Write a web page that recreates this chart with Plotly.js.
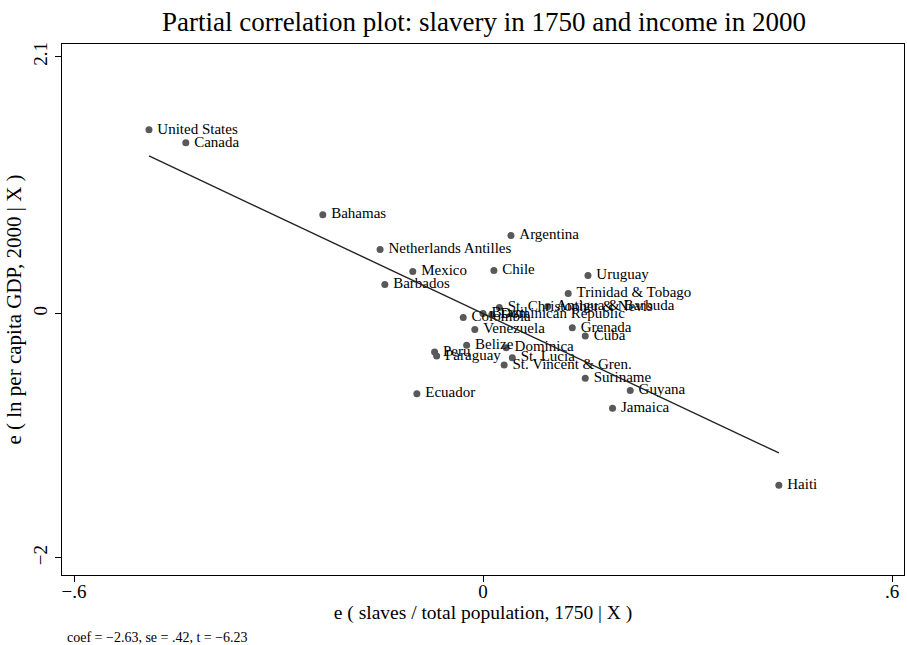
<!DOCTYPE html>
<html>
<head>
<meta charset="utf-8">
<script src="https://cdn.plot.ly/plotly-3.0.1.min.js"></script>
<style>html,body{margin:0;padding:0;background:#fff;}#chart{width:907px;height:645px;}</style>
</head>
<body>
<div id="chart"></div>
<script>
const countries = ["United States","Canada","Bahamas","Netherlands Antilles","Mexico","Barbados","Argentina","Chile","Uruguay","Trinidad & Tobago","Antigua & Barbuda","St. Christopher & Nevis","Brazil","Dominican Republic","Colombia","Venezuela","Grenada","Cuba","Belize","Dominica","Peru","Paraguay","St. Lucia","St. Vincent & Gren.","Suriname","Guyana","Jamaica","Ecuador","Haiti"];
const xSlaves = [-0.490,-0.436,-0.235,-0.151,-0.103,-0.144,0.041,0.016,0.154,0.125,0.095,0.024,0.000,0.013,-0.029,-0.012,0.131,0.150,-0.024,0.034,-0.071,-0.068,0.043,0.031,0.150,0.216,0.190,-0.097,0.434];
const yIncome = [1.503,1.396,0.808,0.523,0.343,0.237,0.637,0.351,0.310,0.163,0.057,0.049,0.000,-0.008,-0.033,-0.131,-0.117,-0.185,-0.261,-0.280,-0.316,-0.349,-0.362,-0.422,-0.531,-0.631,-0.776,-0.656,-1.405];
const coef = -2.63;
const xTicks = [-0.6, 0, 0.6];
const xTickLabels = ["\u2212.6", "0", ".6"];
const yTicks = [2.1, 0, -2];
const yTickLabels = ["2.1", "0", "\u22122"];

const xmin = Math.min(...xSlaves), xmax = Math.max(...xSlaves);
const fitX = [xmin, xmax];
const fitY = fitX.map(v => coef * v);

const serif = "Liberation Serif, Times New Roman, serif";

const traces = [
  {
    x: xSlaves, y: yIncome, text: countries.map(c => "\u2009" + c),
    type: "scatter", mode: "markers+text", textposition: "middle right",
    marker: {color: "#595959", size: 7},
    textfont: {family: serif, size: 15, color: "#000"},
    cliponaxis: false, hoverinfo: "skip", showlegend: false
  },
  {
    x: fitX, y: fitY, type: "scatter", mode: "lines",
    line: {color: "#222", width: 1.4}, hoverinfo: "skip", showlegend: false
  }
];

const layout = {
  width: 907, height: 645,
  margin: {l: 62, r: 3, t: 44, b: 70},
  paper_bgcolor: "#fff", plot_bgcolor: "#fff",
  font: {family: serif, color: "#000"},
  title: {text: "Partial correlation plot: slavery in 1750 and income in 2000",
          font: {family: serif, size: 27, color: "#000"},
          x: 484/907, xanchor: "center", y: 1 - 22/645, yanchor: "middle"},
  xaxis: {
    range: [-0.6176, 0.6176], showgrid: false, zeroline: false,
    showline: true, linecolor: "#000", linewidth: 1.2, mirror: true,
    ticks: "outside", ticklen: 6, tickcolor: "#000", ticklabelstandoff: -7,
    tickvals: xTicks, ticktext: xTickLabels,
    tickfont: {family: serif, size: 19},
    title: {text: "e ( slaves / total population, 1750 | X )", font: {family: serif, size: 19.5}, standoff: 0}
  },
  yaxis: {
    range: [-2.14, 2.205], showgrid: false, zeroline: false,
    showline: true, linecolor: "#000", linewidth: 1.2, mirror: true,
    ticks: "outside", ticklen: 6, tickcolor: "#000",
    tickvals: yTicks, ticktext: yTickLabels, tickangle: -90,
    tickfont: {family: serif, size: 19},
    title: {text: "e ( ln per capita GDP, 2000 | X )", font: {family: serif, size: 21}, standoff: 2}
  },
  annotations: [{
    text: "coef = \u22122.63, se = .42, t = \u22126.23",
    xref: "paper", yref: "paper", x: 0, y: 0, xanchor: "left", yanchor: "middle",
    xshift: 3, yshift: -62, showarrow: false, font: {family: serif, size: 14, color: "#000"}
  }]
};

Plotly.newPlot("chart", traces, layout, {displayModeBar: false, staticPlot: true});
</script>
</body>
</html>
